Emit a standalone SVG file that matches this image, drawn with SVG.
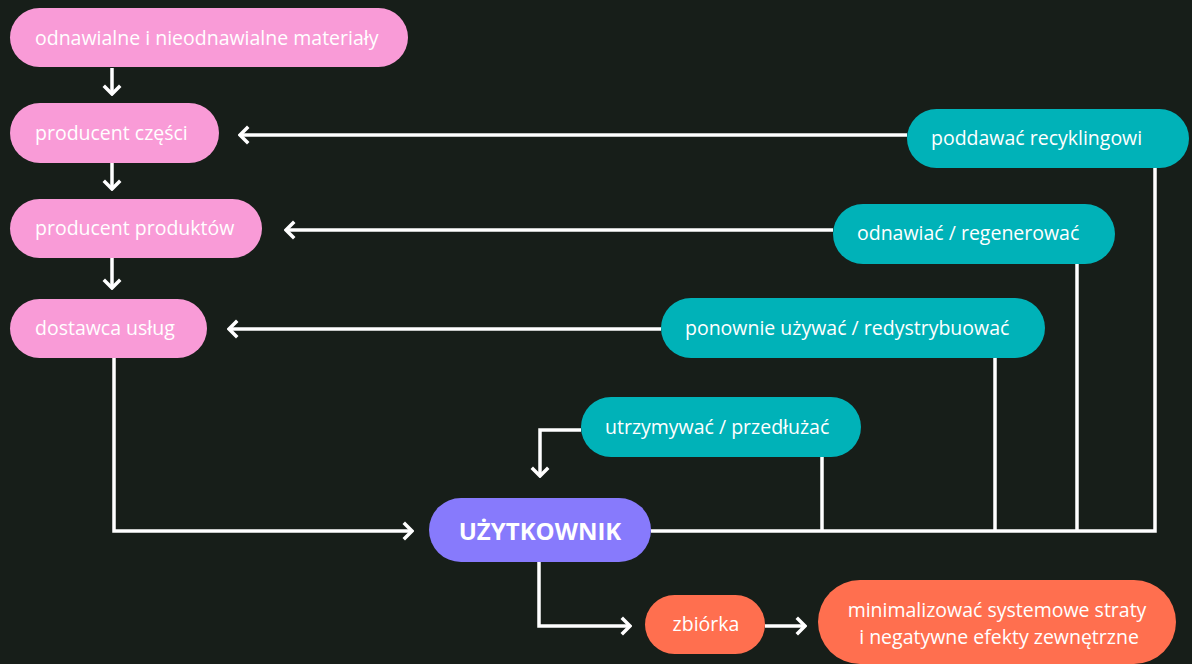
<svg xmlns="http://www.w3.org/2000/svg" width="1192" height="664" viewBox="0 0 1192 664">
  <defs>
    <style>
      .bg { fill: #171e19; }
      .pink { fill: #f99bd7; }
      .teal { fill: #00b2b8; }
      .purple { fill: #877afc; }
      .orange { fill: #ff6f4f; }
      .lbl { font-family: "Open Sans", "Noto Sans", sans-serif; font-size: 19.5px; fill: #ffffff; dominant-baseline: central; }
      .mid { text-anchor: middle; }
      .bold { font-weight: bold; font-size: 24px; }
      .conn { fill: none; stroke: #ffffff; stroke-width: 3.5; stroke-linejoin: miter; }
    </style>
    <marker id="arr" viewBox="-10 -10 12 20" refX="0" refY="0" markerWidth="12" markerHeight="20" markerUnits="userSpaceOnUse" orient="auto">
      <path d="M-7,-7 L0,0 L-7,7" fill="none" stroke="#ffffff" stroke-width="3.5" stroke-linecap="square"/>
    </marker>
  </defs>
  <rect class="bg" x="0" y="0" width="1192" height="664"/>

  <g id="connectors">
    <path class="conn" d="M112,68 V94" marker-end="url(#arr)"/>
    <path class="conn" d="M112,163 V189" marker-end="url(#arr)"/>
    <path class="conn" d="M112,258 V288" marker-end="url(#arr)"/>
    <path class="conn" d="M907,135 H240" marker-end="url(#arr)"/>
    <path class="conn" d="M833,230 H286" marker-end="url(#arr)"/>
    <path class="conn" d="M661,329 H229" marker-end="url(#arr)"/>
    <path class="conn" d="M581,430 H540 V476" marker-end="url(#arr)"/>
    <path class="conn" d="M114,358 V531 H412" marker-end="url(#arr)"/>
    <path class="conn" d="M651,531 H1155 V168"/>
    <path class="conn" d="M822,457 V531"/>
    <path class="conn" d="M995,358 V531"/>
    <path class="conn" d="M1077,264 V531"/>
    <path class="conn" d="M539,562 V626 H630" marker-end="url(#arr)"/>
    <path class="conn" d="M765,626 H805" marker-end="url(#arr)"/>
  </g>

  <g id="node-materialy">
    <rect class="pink" x="10" y="8" width="398" height="59" rx="29.5"/>
    <text class="lbl" x="35" y="37">odnawialne i nieodnawialne materiały</text>
  </g>
  <g id="node-producent-czesci">
    <rect class="pink" x="10" y="103" width="209" height="60" rx="30"/>
    <text class="lbl" x="35" y="132">producent części</text>
  </g>
  <g id="node-producent-produktow">
    <rect class="pink" x="10" y="199" width="252" height="59" rx="29.5"/>
    <text class="lbl" x="35" y="227">producent produktów</text>
  </g>
  <g id="node-dostawca">
    <rect class="pink" x="10" y="299" width="197" height="59" rx="29.5"/>
    <text class="lbl" x="35" y="327">dostawca usług</text>
  </g>

  <g id="node-recykling">
    <rect class="teal" x="907" y="109" width="282" height="59" rx="29.5"/>
    <text class="lbl" x="931" y="137">poddawać recyklingowi</text>
  </g>
  <g id="node-odnawiac">
    <rect class="teal" x="833" y="204" width="282" height="60" rx="30"/>
    <text class="lbl" x="857" y="232">odnawiać / regenerować</text>
  </g>
  <g id="node-ponownie">
    <rect class="teal" x="661" y="298" width="384" height="60" rx="30"/>
    <text class="lbl" x="685" y="327">ponownie używać / redystrybuować</text>
  </g>
  <g id="node-utrzymywac">
    <rect class="teal" x="581" y="397" width="280" height="60" rx="30"/>
    <text class="lbl" x="605" y="426">utrzymywać / przedłużać</text>
  </g>

  <g id="node-uzytkownik">
    <rect class="purple" x="429" y="498" width="222" height="64" rx="32"/>
    <text class="lbl mid bold" x="540" y="530">UŻYTKOWNIK</text>
  </g>
  <g id="node-zbiorka">
    <rect class="orange" x="645" y="595" width="120" height="59" rx="29.5"/>
    <text class="lbl mid" x="706" y="623">zbiórka</text>
  </g>
  <g id="node-minimalizowac">
    <rect class="orange" x="818" y="580" width="358" height="84" rx="42"/>
    <text class="lbl mid" x="997" y="609">minimalizować systemowe straty</text>
    <text class="lbl mid" x="999" y="636">i negatywne efekty zewnętrzne</text>
  </g>
</svg>
